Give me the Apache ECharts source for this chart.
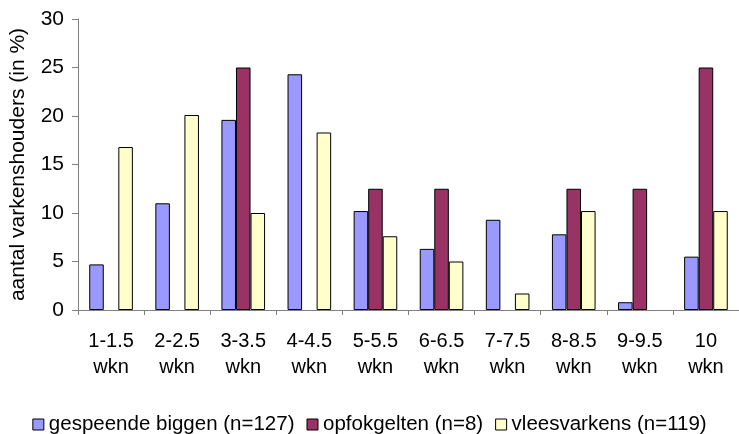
<!DOCTYPE html>
<html>
<head>
<meta charset="utf-8">
<script src="https://cdn.jsdelivr.net/npm/echarts@6/dist/echarts.min.js"></script>
<style>
  html, body { margin: 0; padding: 0; background: #fff; }
  #chart { width: 739px; height: 434px; }
</style>
</head>
<body>
<div id="chart"></div>
<script>
// categorieën (weken)
const categories = ["1-1.5\nwkn", "2-2.5\nwkn", "3-3.5\nwkn", "4-4.5\nwkn", "5-5.5\nwkn",
  "6-6.5\nwkn", "7-7.5\nwkn", "8-8.5\nwkn", "9-9.5\nwkn", "10\nwkn"];
const seriesNames = ["gespeende biggen (n=127)", "opfokgelten (n=8)", "vleesvarkens (n=119)"];
const biggen = [4.7, 11.0, 19.6, 24.3, 10.2, 6.3, 9.3, 7.8, 0.8, 5.5];
const gelten = [0, 0, 25, 0, 12.5, 12.5, 0, 12.5, 12.5, 25];
const vleesvarkens = [16.8, 20.1, 10.0, 18.3, 7.6, 5.0, 1.7, 10.2, 0, 10.2];
const colors = ["#9999ff", "#993366", "#ffffcc"];

const chart = echarts.init(document.getElementById("chart"));

const makeSeries = (name, data, color) => ({
  name: name,
  type: "bar",
  data: data.map((v) => (v === 0 ? null : v)),
  barGap: "0%",
  barCategoryGap: "34%",
  itemStyle: { color: color, borderColor: "#000", borderWidth: 1 },
});

chart.setOption({
  animation: false,
  textStyle: { fontFamily: "Liberation Sans, Arial, sans-serif" },
  grid: { left: 78, right: 0, top: 19, bottom: 124 },
  legend: {
    top: 414,
    left: "center",
    padding: 0,
    itemWidth: 11,
    itemHeight: 11,
    itemGap: 12,
    textStyle: { fontSize: 20.5, color: "#000" },
    data: seriesNames.map((n, i) => ({
      name: n,
      icon: "rect",
      itemStyle: { color: colors[i], borderColor: "#000", borderWidth: 1 },
    })),
  },
  xAxis: {
    type: "category",
    data: categories,
    axisLine: { lineStyle: { color: "#808080", width: 1 } },
    axisTick: { show: true, length: 5, inside: false, lineStyle: { color: "#808080" } },
    axisLabel: { color: "#000", fontSize: 20, lineHeight: 26, margin: 18, interval: 0 },
  },
  yAxis: {
    type: "value",
    min: 0,
    max: 30,
    interval: 5,
    name: "aantal varkenshouders (in %)",
    nameLocation: "middle",
    nameGap: 49,
    nameTextStyle: { fontSize: 21, color: "#000" },
    axisLine: { show: true, lineStyle: { color: "#808080", width: 1 } },
    axisTick: { show: true, length: 6, lineStyle: { color: "#808080" } },
    axisLabel: { color: "#000", fontSize: 21, margin: 14 },
    splitLine: { show: false },
  },
  series: [
    makeSeries(seriesNames[0], biggen, colors[0]),
    makeSeries(seriesNames[1], gelten, colors[1]),
    makeSeries(seriesNames[2], vleesvarkens, colors[2]),
  ],
});
</script>
</body>
</html>
